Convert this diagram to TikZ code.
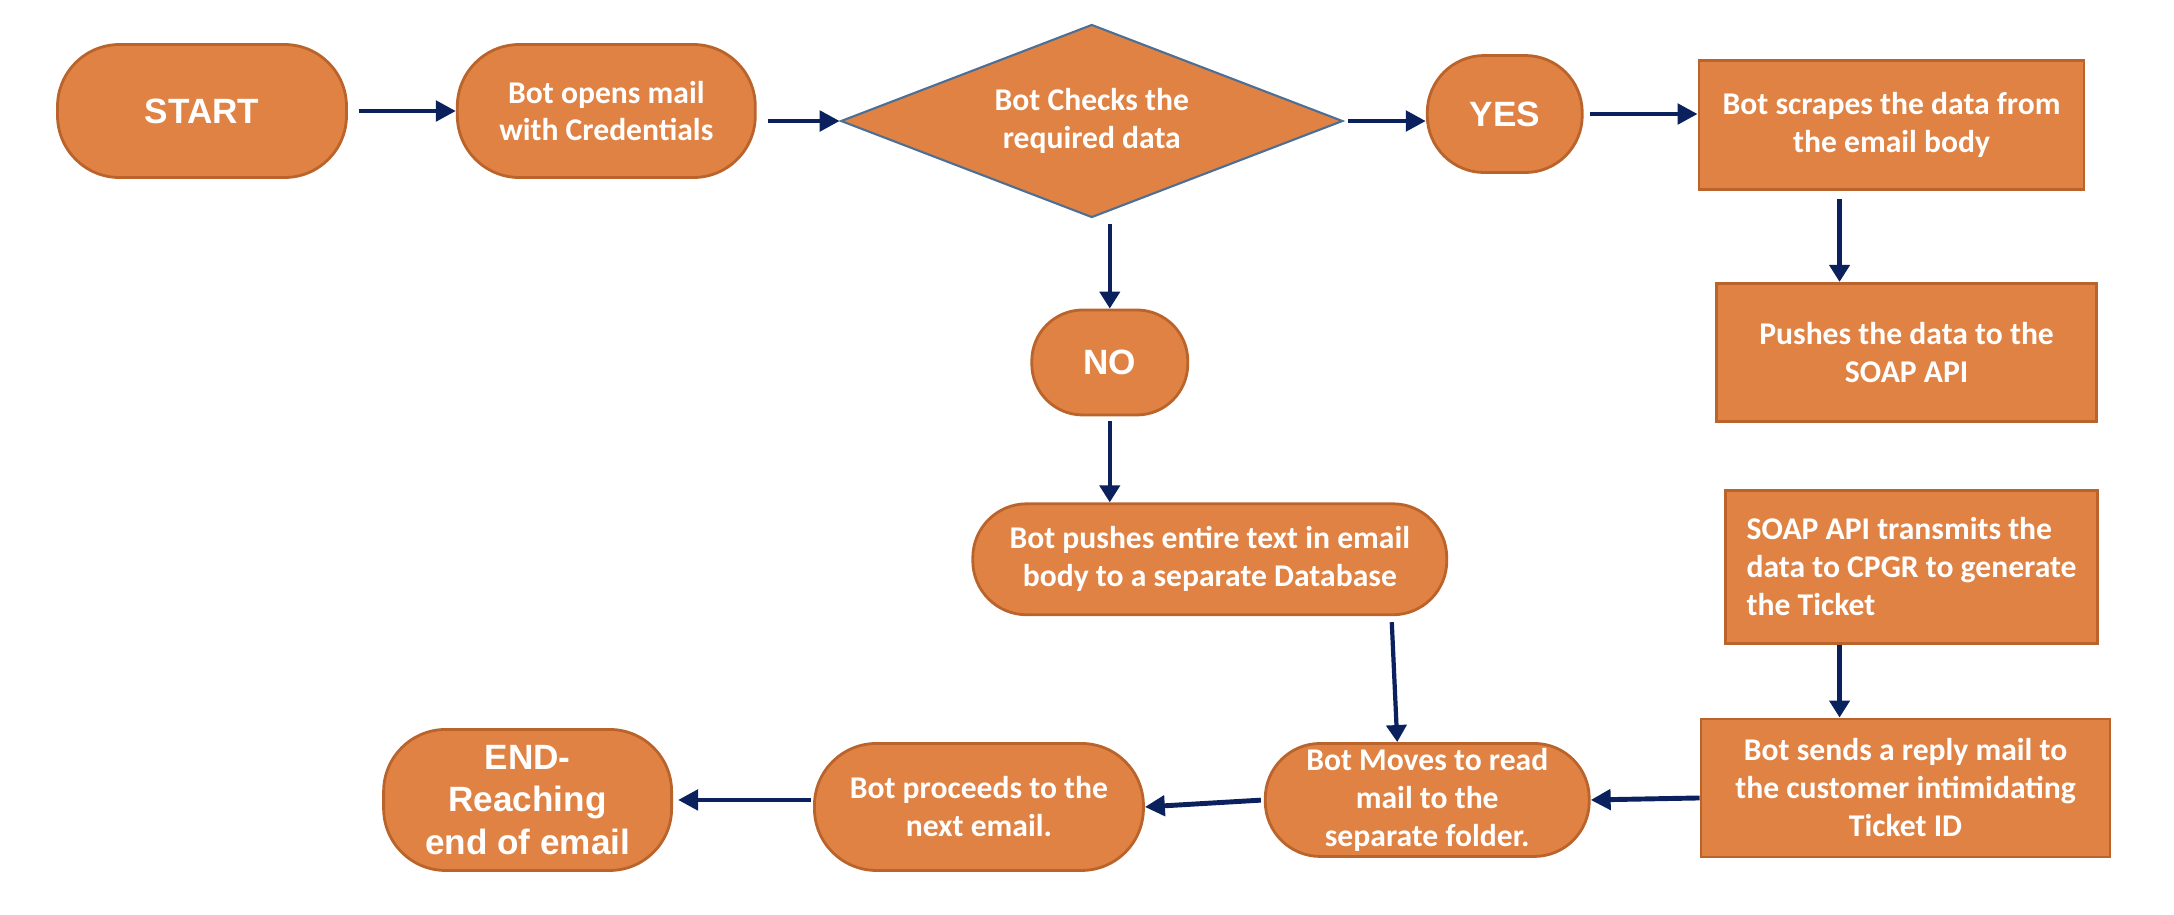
\documentclass[tikz,border=0pt]{standalone}
\usepackage{fontspec}
\setmainfont{Carlito}
\newfontfamily\headfont{Liberation Sans}
\usetikzlibrary{positioning,shapes.geometric,arrows.meta}
\definecolor{boxfill}{HTML}{DF8244}
\definecolor{boxline}{HTML}{BA642C}
\definecolor{diaedge}{HTML}{4E6F93}
\definecolor{arrowblue}{HTML}{0B215E}
\tikzset{
>={Triangle[length=0.2cm,width=0.2cm]},
  termbox/.style={
    rectangle,
    rounded corners=0.62cm,
    fill=boxfill,
    draw=boxline, line width=0.8pt,
    text=white,
    font={\fontsize{9}{10.8}\selectfont\bfseries},
    align=center,
    inner sep=0pt},
  stepbox/.style={
    rectangle,
    fill=boxfill,
    draw=boxline, line width=0.8pt,
    text=white,
    font={\fontsize{9}{10.8}\selectfont\bfseries},
    align=center,
    inner sep=0pt},
  decide/.style={
    diamond, aspect=2.6,
    fill=boxfill,
    draw=diaedge, line width=0.6pt,
    text=white,
    font={\fontsize{9}{10.8}\selectfont\bfseries},
    align=center,
    inner sep=0pt},
  keyword/.style={font={\headfont\fontsize{10}{12}\selectfont\bfseries}},
  line/.style={draw=arrowblue, line width=1.4pt, ->},
  vline/.style={draw=arrowblue, line width=1.2pt,
    -{Triangle[length=0.17cm,width=0.2cm]}},
}
\begin{document}
\begin{tikzpicture}
  [node distance=1cm]
\useasboundingbox (0,0) rectangle (21.74,-9.14);
\node[termbox, keyword, minimum width=2.89cm, minimum height=1.33cm] (start) at (2.02,-1.11) {START};
\node[termbox, minimum width=2.98cm, minimum height=1.33cm, right=1.08cm of start] (opens) {Bot opens mail\\with Credentials};
\node[decide, minimum width=5.02cm, minimum height=1.93cm, right=0.83cm of opens, yshift=-0.1cm] (check) {Bot Checks the\\required data};
\node[termbox, keyword, rounded corners=0.57cm, minimum width=1.55cm, minimum height=1.17cm, right=0.82cm of check, yshift=0.07cm] (yes) {YES};
\node[stepbox, minimum width=3.85cm, minimum height=1.29cm, right=1.14cm of yes, yshift=-0.11cm] (scrape) {Bot scrapes the data from\\the email body};
\node[stepbox, minimum width=3.80cm, minimum height=1.38cm, below=0.91cm of scrape, xshift=0.15cm] (pushapi) {Pushes the data to the\\SOAP API};
\node[stepbox, align=left, minimum width=3.72cm, minimum height=1.53cm, below=0.66cm of pushapi, xshift=0.05cm] (soap) {SOAP API transmits the\\data to CPGR to generate\\the Ticket};
\node[stepbox, minimum width=4.09cm, minimum height=1.38cm, below=0.73cm of soap, xshift=-0.06cm] (reply) {Bot sends a reply mail to\\the customer intimidating\\Ticket ID};
\node[termbox, keyword, rounded corners=0.51cm, minimum width=1.56cm, minimum height=1.05cm, below=0.9cm of check, xshift=0.18cm] (no) {NO};
\node[termbox, rounded corners=0.54cm, minimum width=4.74cm, minimum height=1.11cm, below=0.86cm of no, xshift=1.0cm] (pushdb) {Bot pushes entire text in email\\body to a separate Database};
\node[termbox, rounded corners=0.55cm, minimum width=3.24cm, minimum height=1.13cm, left=1.09cm of reply, yshift=-0.12cm] (moves) {Bot Moves to read\\mail to the\\separate folder.};
\node[termbox, minimum width=3.29cm, minimum height=1.27cm, left=1.19cm of moves, yshift=-0.07cm] (proceeds) {Bot proceeds to the\\next email.};
\node[termbox, keyword, minimum width=2.88cm, minimum height=1.41cm, left=1.40cm of proceeds, yshift=0.07cm] (finish) {END-\\Reaching\\end of email};
\coordinate (sa) at ([xshift=-0.52cm]scrape.south);
\coordinate (sb) at ([xshift=-0.72cm]soap.south);
\draw[line, shorten <=0.11cm] (start) -- (opens);
\draw[line, shorten <=0.11cm] (opens.east |- check.west) -- (check.west);
\draw[line, shorten <=0.04cm] (check.east) -- (check.east -| yes.west);
\draw[line, shorten <=0.06cm] (yes.east) -- (yes.east -| scrape.west);
\draw[vline, shorten <=0.08cm] (sa) -- (sa |- pushapi.north);
\draw[vline, shorten <=0.05cm] (check.south -| no.north) -- (no.north);
\draw[vline, shorten <=0.05cm] (no.south) -- (no.south |- pushdb.north);
\draw[vline] ([xshift=1.82cm,yshift=-0.06cm]pushdb.south) -- ([xshift=-0.30cm]moves.north);
\draw[vline] (sb) -- (sb |- reply.north);
\draw[line] ([yshift=-0.1cm]reply.west) -- (moves.east);
\draw[line, shorten <=0.03cm] (moves.west) -- (proceeds.east);
\draw[line, shorten <=0.02cm] ([yshift=0.07cm]proceeds.west) -- ([xshift=0.05cm]finish.east);
\end{tikzpicture}
\end{document}
